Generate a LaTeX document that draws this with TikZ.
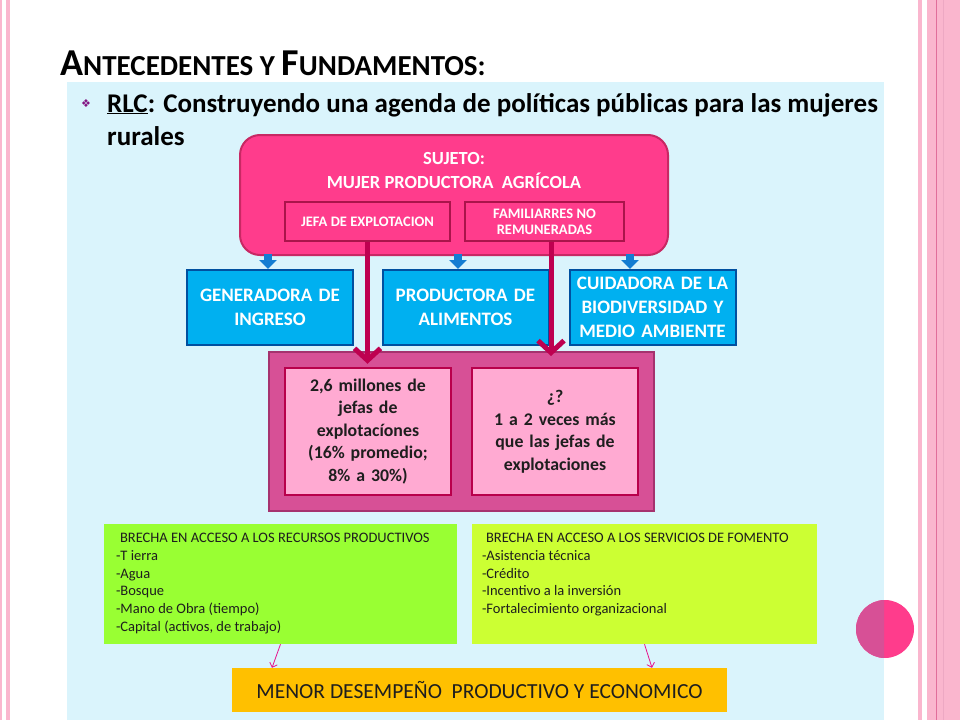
\documentclass[tikz,border=0pt]{standalone}
\usepackage{fontspec}
\setmainfont{Carlito}
\newfontfamily\symbolfont{DejaVu Sans}
\usetikzlibrary{arrows.meta, positioning}
\definecolor{panelblue}{RGB}{218,244,252}
\definecolor{framepink}{RGB}{250,182,206}
\definecolor{framedark}{RGB}{225,110,155}
\definecolor{sujetopink}{RGB}{255,60,140}
\definecolor{sujetoline}{RGB}{200,40,100}
\definecolor{tagline}{RGB}{170,20,75}
\definecolor{roleblue}{RGB}{0,176,240}
\definecolor{roleline}{RGB}{0,80,160}
\definecolor{feedblue}{RGB}{20,125,210}
\definecolor{holdermagenta}{RGB}{215,80,150}
\definecolor{holderline}{RGB}{165,50,110}
\definecolor{datapink}{RGB}{255,170,210}
\definecolor{dataline}{RGB}{185,0,75}
\definecolor{linkcrimson}{RGB}{190,0,80}
\definecolor{gapgreen}{RGB}{153,255,51}
\definecolor{gaplime}{RGB}{204,255,51}
\definecolor{resultorange}{RGB}{255,192,0}
\definecolor{thinmagenta}{RGB}{230,20,140}
\definecolor{bulletpurple}{RGB}{130,20,130}
\definecolor{textdark}{RGB}{30,30,30}

\begin{document}
\begin{tikzpicture}[
    x=1pt, y=-1pt,
    sujetobox/.style={rectangle, rounded corners=20pt, draw=sujetoline, line width=2pt,
                fill=sujetopink, minimum width=428pt, minimum height=120pt},
    tagbox/.style={rectangle, draw=tagline, line width=2pt, fill=sujetopink, text=white,
                minimum height=39pt, inner sep=2pt, align=center,
                font=\bfseries\fontsize{14.5}{16}\selectfont},
    rolebox/.style={rectangle, draw=roleline, line width=2pt, fill=roleblue, text=white,
                text width=162pt, inner sep=2pt, minimum height=75pt, align=center,
                font=\bfseries\fontsize{19}{24}\selectfont},
    databox/.style={rectangle, draw=dataline, line width=2.5pt, fill=datapink, text=textdark,
                text width=160pt, inner sep=3pt, minimum height=127pt, align=center,
                font=\bfseries\fontsize{17.8}{22.5}\selectfont},
    gapbox/.style={rectangle, minimum height=120pt},
    gaptext/.style={anchor=north west, inner sep=0pt, align=left, text=textdark,
                font=\fontsize{14.5}{17.8}\selectfont},
    feedarrow/.style={-{Triangle[width=17pt, length=9pt]}, line width=8pt, feedblue},
    linkarrow/.style={-{Straight Barb[length=12pt, width=26pt]}, line width=5pt, linkcrimson},
    thinarrow/.style={-{Straight Barb[length=4pt, width=8pt]}, line width=0.8pt, thinmagenta}
]
\useasboundingbox (0,0) rectangle (960,720);
% slide frame
\fill[framepink] (0,0) rectangle (1.5,720);
\fill[framepink] (6,0) rectangle (10,720);
\fill[framepink] (918,0) rectangle (922,720);
\fill[framepink] (927,0) rectangle (960,720);
\draw[framedark, line width=1pt] (936.5,0) -- (936.5,720);
\draw[framedark!60, line width=0.8pt] (943,0) -- (943,720);
\fill[panelblue] (67,82) rectangle (884,720);
% corner disc
\fill[sujetopink] (885,629) circle[radius=29];
\begin{scope}
  \clip (67,82) rectangle (884,720);
  \fill[holdermagenta] (885,629) circle[radius=29];
\end{scope}

% heading
\node[anchor=base west, inner sep=0pt, font=\bfseries] (heading) at (60,75)
  {\fontsize{38}{38}\selectfont A\fontsize{29}{29}\selectfont NTECEDENTES Y
   \fontsize{38}{38}\selectfont F\fontsize{29}{29}\selectfont UNDAMENTOS:};
\node[bulletpurple, inner sep=0pt, font=\symbolfont\fontsize{11}{11}\selectfont] (bullet) at (86,104) {❖};
\node[anchor=base west, inner sep=0pt, font=\bfseries\fontsize{27}{27}\selectfont] (lead) at (107,112)
  {\underline{RLC}: Construyendo una agenda de políticas públicas para las mujeres};
\node[anchor=base west, inner sep=0pt, font=\bfseries\fontsize{27}{27}\selectfont] (leadcont)
  at ([yshift=-33pt]lead.base west) {rurales};

% subject
\node[sujetobox] (sujeto) at (454,195) {};
\node[text=white, align=center, font=\bfseries\fontsize{18.5}{24}\selectfont] (sujetotitle) at (454,170)
  {SUJETO:\\MUJER PRODUCTORA\ \ AGRÍCOLA};
\node[tagbox, minimum width=165pt] (jefa) at (367.5,221.5) {JEFA DE EXPLOTACION};
\node[tagbox, minimum width=159pt] (fam) at (544.5,221.5) {FAMILIARRES NO\\REMUNERADAS};

% roles
\node[rolebox] (gen) at (270,307.5) {GENERADORA DE\\INGRESO};
\node[rolebox] (prod) at (465.5,307.5) {PRODUCTORA DE\\ALIMENTOS};
\node[rolebox] (cuid) at (652.5,307.5) {CUIDADORA DE LA\\BIODIVERSIDAD Y\\MEDIO AMBIENTE};
\draw[feedarrow] ([xshift=-2pt, yshift=2pt]gen.north |- sujeto.south) -- ([xshift=-2pt]gen.north);
\draw[feedarrow] ([xshift=-7.5pt, yshift=2pt]prod.north |- sujeto.south) -- ([xshift=-7.5pt]prod.north);
\draw[feedarrow] ([xshift=-22.5pt, yshift=2pt]cuid.north |- sujeto.south) -- ([xshift=-22.5pt]cuid.north);

% figures
\node[rectangle, draw=holderline, line width=2pt, fill=holdermagenta,
      minimum width=385pt, minimum height=159pt] (holder) at (461.5,431.5) {};
\node[databox] (jefadata) at (368,431.5)
  {2,6 millones de\\jefas de\\explotacíones\\(16\% promedio;\\8\% a 30\%)};
\node[databox] (famdata) at (555,431.5)
  {¿?\\1 a 2 veces más\\que las jefas de\\explotaciones};
\draw[linkarrow] (jefa.south) -- ([yshift=3pt]jefa.south |- jefadata.north);
\draw[linkarrow] ([xshift=6.5pt]fam.south) -- ([xshift=6.5pt, yshift=-5pt]fam.south |- holder.north);

% gaps
\node[gapbox, fill=gapgreen, minimum width=353pt] (gapres) at (280.5,584) {};
\node[gapbox, fill=gaplime, minimum width=345pt] (gapserv) at (644.5,584) {};
\node[gaptext] (gaprestext) at ([xshift=12pt, yshift=-9pt]gapres.north west)
  {\hspace{4pt}BRECHA EN ACCESO A LOS RECURSOS PRODUCTIVOS\\-T ierra\\-Agua\\-Bosque\\
   -Mano de Obra (tiempo)\\-Capital (activos, de trabajo)};
\node[gaptext] (gapservtext) at ([xshift=10pt, yshift=-9pt]gapserv.north west)
  {\hspace{4pt}BRECHA EN ACCESO A LOS SERVICIOS DE FOMENTO\\-Asistencia técnica\\-Crédito\\
   -Incentivo a la inversión\\-Fortalecimiento organizacional};

% outcome
\node[rectangle, fill=resultorange, minimum width=495pt, minimum height=44pt, text=textdark,
      font=\fontsize{21.5}{21.5}\selectfont] (result) at (479.5,690)
  {MENOR DESEMPEÑO\ \ PRODUCTIVO Y ECONOMICO};
\draw[thinarrow] (gapres.south) -- ([xshift=-8.5pt]gapres.south |- result.north);
\draw[thinarrow] (gapserv.south) -- ([xshift=7.5pt]gapserv.south |- result.north);
\end{tikzpicture}
\end{document}
